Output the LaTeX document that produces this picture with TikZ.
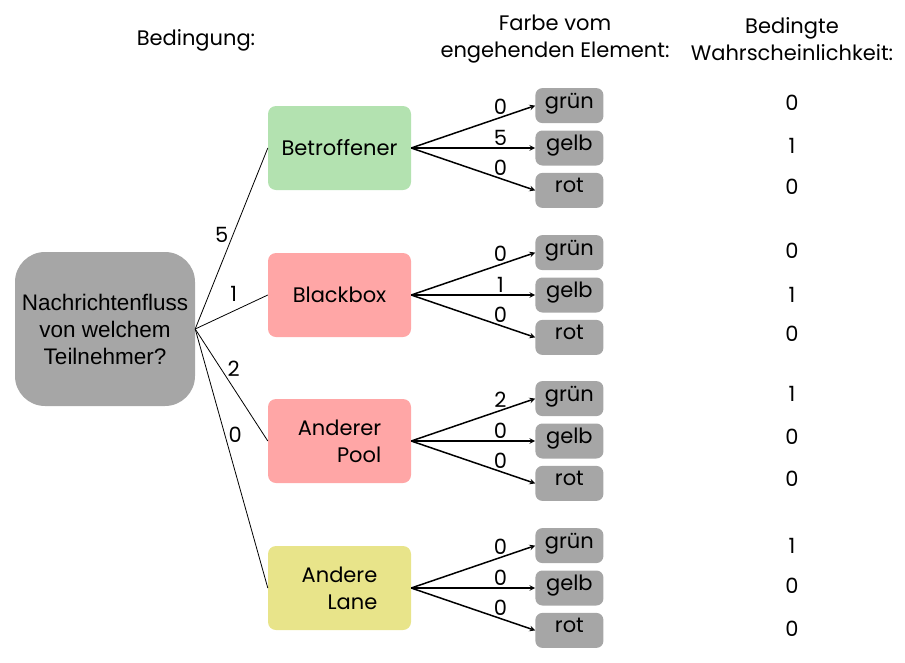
\documentclass[tikz,border=0pt]{standalone}
\usepackage{fontspec}
\setmainfont{Poppins}
\newfontfamily\arialfont{Liberation Sans}
\usepackage{xcolor}
\usetikzlibrary{positioning}
\definecolor{CondGreen}{HTML}{B3E2B0}
\definecolor{CondRed}{HTML}{FFA6A6}
\definecolor{CondYellow}{HTML}{E8E48A}
\definecolor{BoxGray}{HTML}{A6A6A6}

\begin{document}
\begin{tikzpicture}[x=1pt, y=-1pt, font=\fontsize{21}{27}\selectfont, every node/.style={align=center},
    cond/.style={rounded corners=8pt, minimum width=143pt, minimum height=84pt},
    colbox/.style={fill=BoxGray, rounded corners=7pt, minimum width=68pt, minimum height=35pt, inner sep=0pt, text height=1.5ex, text depth=.6ex},
    flow/.style={line width=1.5pt, ->, >=stealth},
    count/.style={pos=0.72, above=2pt, inner sep=0pt}]
      \useasboundingbox (0,0) rectangle (905,662);
      % Headers
      \node (hcond) at (196,40) {Bedingung:};
      \node (hcolor) at (555,39) {Farbe vom\\engehenden Element:};
      \node (hprob) at (792,39) {Bedingte\\Wahrscheinlichkeit:};
      % Nodes
      \node[fill=BoxGray, rounded corners=30pt, minimum width=180pt, minimum height=154pt, font={\arialfont\fontsize{22.5}{27}\selectfont}] (quest) at (105,329) {Nachrichtenfluss\\von welchem\\Teilnehmer?};
      \node[cond, fill=CondGreen] (betr) at (339.5,148) {Betroffener};
      \node[cond, fill=CondRed] (bbox) at (339.5,295) {Blackbox};
      \node[cond, fill=CondRed, align=right] (pool) at (339.5,441) {Anderer\\Pool};
      \node[cond, fill=CondYellow, align=right] (lane) at (339.5,588) {Andere\\Lane};
      % Colour boxes
      \node[colbox, right=124pt of betr] (gelb1) {gelb};
      \node[colbox, above=7pt of gelb1] (gruen1) {grün};
      \node[colbox, below=7pt of gelb1] (rot1) {rot};
      \node[colbox, right=124pt of bbox] (gelb2) {gelb};
      \node[colbox, above=7pt of gelb2] (gruen2) {grün};
      \node[colbox, below=7pt of gelb2] (rot2) {rot};
      \node[colbox, right=124pt of pool] (gelb3) {gelb};
      \node[colbox, above=7pt of gelb3] (gruen3) {grün};
      \node[colbox, below=7pt of gelb3] (rot3) {rot};
      \node[colbox, right=124pt of lane] (gelb4) {gelb};
      \node[colbox, above=7pt of gelb4] (gruen4) {grün};
      \node[colbox, below=7pt of gelb4] (rot4) {rot};
      % Probabilities
      \node (p1a) at (792,103) {0};
      \node (p1b) at (792,146) {1};
      \node (p1c) at (792,187) {0};
      \node (p2a) at (792,251) {0};
      \node (p2b) at (792,295) {1};
      \node (p2c) at (792,334) {0};
      \node (p3a) at (792,394) {1};
      \node (p3b) at (792,437) {0};
      \node (p3c) at (792,479) {0};
      \node (p4a) at (792,546) {1};
      \node (p4b) at (792,586) {0};
      \node (p4c) at (792,629) {0};
      % Lines
      \draw[line width=0.8pt] (quest.east) -- node[pos=0.52, left=1pt] {5} (betr.west);
      \draw[line width=0.8pt] (quest.east) -- node[pos=0.53, above=6pt] {1} (bbox.west);
      \draw[line width=0.8pt] (quest.east) -- node[pos=0.53, above=8pt] {2} (pool.west);
      \draw[line width=0.8pt] (quest.east) -- node[pos=0.41, right=0pt] {0} (lane.west);
      % Arrows
      \draw[flow] (betr.east) -- node[count] {0} (gruen1.west);
      \draw[flow] (betr.east) -- node[count] {5} (gelb1.west);
      \draw[flow] (betr.east) -- node[count] {0} (rot1.west);
      \draw[flow] (bbox.east) -- node[count] {0} (gruen2.west);
      \draw[flow] (bbox.east) -- node[count] {1} (gelb2.west);
      \draw[flow] (bbox.east) -- node[count] {0} (rot2.west);
      \draw[flow] (pool.east) -- node[count] {2} (gruen3.west);
      \draw[flow] (pool.east) -- node[count] {0} (gelb3.west);
      \draw[flow] (pool.east) -- node[count] {0} (rot3.west);
      \draw[flow] (lane.east) -- node[count] {0} (gruen4.west);
      \draw[flow] (lane.east) -- node[count] {0} (gelb4.west);
      \draw[flow] (lane.east) -- node[count] {0} (rot4.west);
    \end{tikzpicture}
\end{document}
